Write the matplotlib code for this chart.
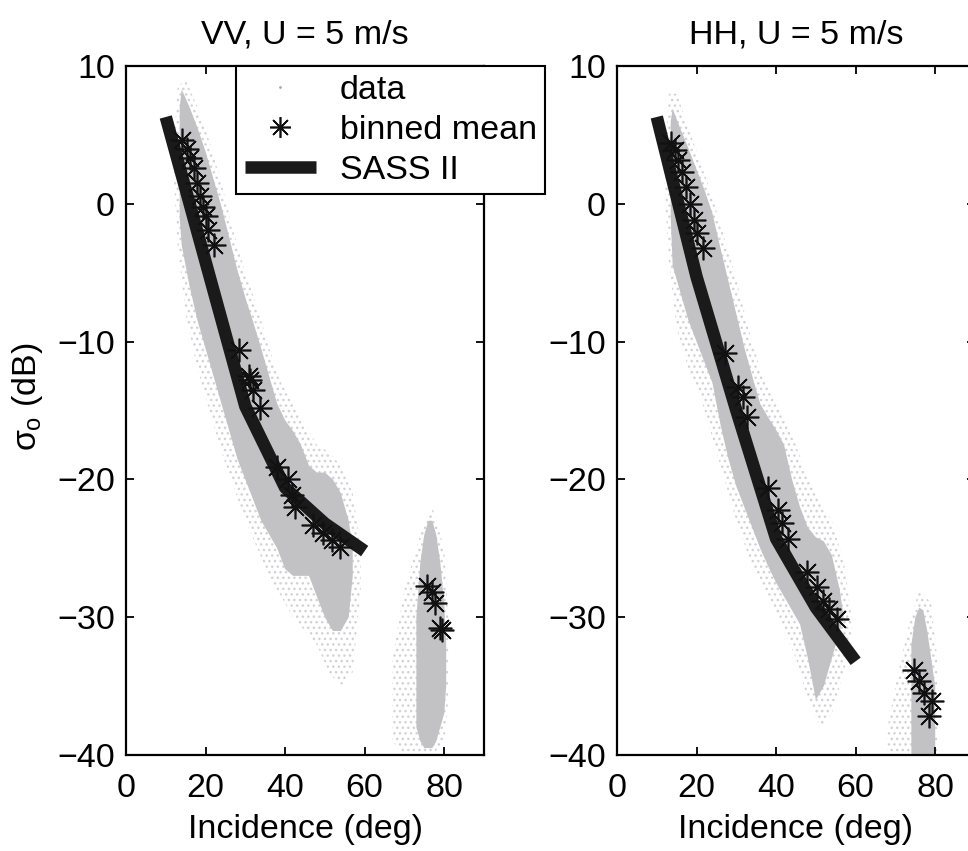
import matplotlib
matplotlib.use("Agg")
import matplotlib.pyplot as plt
from matplotlib.lines import Line2D

plt.rcParams['font.family'] = ['Liberation Sans', 'DejaVu Sans']
plt.rcParams['mathtext.fontset'] = 'custom'
plt.rcParams['mathtext.rm'] = 'Liberation Sans'
plt.rcParams['mathtext.it'] = 'Liberation Sans'
plt.rcParams['mathtext.bf'] = 'Liberation Sans'
plt.rcParams['hatch.linewidth'] = 1.0

# ---------------- data ----------------
titles = ["VV, U = 5 m/s", "HH, U = 5 m/s"]
x_ticks = [0, 20, 40, 60, 80]
y_ticks = [-40, -30, -20, -10, 0, 10]

# SASS II model
sass_inc = [10, 20, 30, 40, 50, 60]
sass_vv = [6.3, -4.2, -14.7, -20.6, -23.2, -25.2]
sass_hh = [6.3, -5.3, -15.0, -24.3, -29.3, -33.2]

# binned means
bin_inc_vv = [14.0, 15.3, 16.1, 17.1, 17.9, 18.6, 19.4, 20.1, 20.7, 22.0, 28.3, 30.8, 31.2, 32.0,
              33.7, 37.9, 40.8, 41.7, 42.5, 47.1, 49.6, 51.7, 53.8, 75.6, 76.9, 77.7, 79.0, 79.4]
bin_sig_vv = [4.6, 4.0, 3.3, 2.6, 1.5, 0.6, -0.2, -0.9, -1.9, -3.0, -10.6, -12.5, -12.8, -13.5,
              -14.8, -19.1, -20.0, -21.1, -22.0, -23.3, -23.9, -24.4, -24.9, -27.7, -28.2, -29.0, -30.8, -30.9]
bin_inc_hh = [13.7, 14.6, 15.4, 16.3, 17.4, 18.4, 19.4, 20.2, 21.7, 27.2, 30.5, 31.6, 32.6, 38.0,
              40.5, 41.4, 43.1, 47.7, 50.3, 51.9, 53.2, 55.3, 74.6, 75.9, 77.1, 79.2, 78.4]
bin_sig_hh = [4.4, 3.9, 3.2, 2.3, 1.2, 0.0, -1.2, -2.1, -3.2, -10.8, -13.3, -14.0, -15.5, -20.6,
              -22.2, -23.2, -24.3, -26.7, -27.8, -28.8, -29.4, -30.1, -33.8, -34.6, -35.5, -36.1, -37.2]

# data cloud envelopes (dense core and sparse halo)
vv_core_x = [13.5, 14, 16, 18, 20, 22, 24, 26, 28, 30, 32, 34, 36, 38, 40, 42, 44, 46, 48, 50, 52, 54, 56, 57]
vv_core_hi = [7, 8.3, 7, 5.5, 3.8, 1.8, -0.2, -2.5, -4.8, -6.8, -8.6, -10.5, -12.5, -14.5, -15.7,
              -16.5, -17.5, -19, -19.5, -19.5, -20, -21, -23, -25]
vv_core_lo = [-1, -3, -6, -8.5, -10.5, -12.5, -14.5, -16.5, -18.5, -20, -21.5, -23, -24, -25, -26.5,
              -27, -27, -27, -28.5, -30, -31, -31, -30, -27]
vv_halo_x = [12, 13, 15, 18, 21, 24, 27, 30, 33, 36, 39, 42, 45, 48, 51, 54, 57, 59]
vv_halo_hi = [4, 8.5, 9, 7, 4.5, 1.5, -2, -5, -7.5, -10.5, -13, -14.5, -16, -17.5, -18, -19, -21, -25]
vv_halo_lo = [2, -3, -8, -12, -15, -18, -20.5, -23, -25, -27, -28.5, -30, -31, -32, -34, -35, -34, -28]
vv_far_x = [73, 74, 75, 76, 77, 78, 79, 80, 80.5]
vv_far_hi = [-30, -26, -24, -23, -23, -24, -26, -29, -32]
vv_far_lo = [-38, -39, -39.5, -39.5, -39.5, -39, -38, -37, -35]
vv_farh_x = [67, 70, 74, 77, 80, 81]
vv_farh_hi = [-33, -28, -24, -22, -25, -30]
vv_farh_lo = [-39, -40, -40, -40, -39, -36]

hh_core_x = [13.5, 14, 16, 18, 20, 22, 24, 26, 28, 30, 32, 34, 36, 38, 40, 42, 44, 46, 48, 50, 52, 54, 56, 57]
hh_core_hi = [6, 6.9, 5.4, 4, 2.5, 1, -0.7, -3.2, -5.6, -8, -10.4, -12.5, -14.5, -15.5, -16.4,
              -17.5, -20, -22, -23.5, -24.2, -24.5, -25.5, -28, -30]
hh_core_lo = [-1, -4.5, -6.5, -8.5, -10, -11.5, -13, -16, -18.5, -20.5, -22, -23.5, -25, -26.3,
              -27.5, -28.5, -29.5, -30.5, -33, -36, -35, -33, -31, -30]
hh_halo_x = [12, 13, 15, 18, 21, 24, 27, 30, 33, 36, 39, 42, 45, 48, 51, 54, 57, 59]
hh_halo_hi = [3, 8, 8, 5.5, 3, 0.5, -2.5, -5.5, -9, -12, -14, -15.5, -17.5, -20, -21.5, -23, -26, -30]
hh_halo_lo = [1, -4, -9, -12, -14, -17, -20, -23, -25.5, -27.5, -29, -31, -33, -36, -38, -37, -34, -31]
hh_far_x = [74, 75, 76, 77, 78, 79, 80]
hh_far_hi = [-32, -30, -29.3, -29.5, -31, -33, -35]
hh_far_lo = [-40, -40, -40, -40, -40, -40, -40]
hh_farh_x = [68, 70, 73, 76, 79, 80.5]
hh_farh_hi = [-38, -35, -31, -28, -29, -33]
hh_farh_lo = [-40, -40, -40, -40, -40, -40]

panels = [
    dict(sass=sass_vv, bx=bin_inc_vv, by=bin_sig_vv,
         clouds=[(vv_core_x, vv_core_hi, vv_core_lo), (vv_far_x, vv_far_hi, vv_far_lo)],
         halos=[(vv_halo_x, vv_halo_hi, vv_halo_lo), (vv_farh_x, vv_farh_hi, vv_farh_lo)]),
    dict(sass=sass_hh, bx=bin_inc_hh, by=bin_sig_hh,
         clouds=[(hh_core_x, hh_core_hi, hh_core_lo), (hh_far_x, hh_far_hi, hh_far_lo)],
         halos=[(hh_halo_x, hh_halo_hi, hh_halo_lo), (hh_farh_x, hh_farh_hi, hh_farh_lo)]),
]

# ---------------- figure ----------------
W, H = 968, 851
fig = plt.figure(figsize=(W / 100, H / 100), dpi=100)
gray = '#c2c2c4'
halo_gray = '#d2d2d4'
fs = 24.5
star = (8, 2, 0)
line_col = '#1a1a1a'

lefts = [126, 617]
for i, p in enumerate(panels):
    ax = fig.add_axes([lefts[i] / W, (H - 755) / H, 358 / W, 689 / H])
    for (cx, hi, lo) in p['halos']:
        ax.fill_between(cx, lo, hi, facecolor='none', edgecolor=halo_gray, hatch='...',
                        linewidth=0, zorder=1)
    for (cx, hi, lo) in p['clouds']:
        ax.fill_between(cx, lo, hi, facecolor=gray, edgecolor='none', linewidth=0, zorder=1.5)
    ax.plot(sass_inc, p['sass'], color=line_col, lw=9, solid_capstyle='butt', zorder=3)
    ax.plot(p['bx'], p['by'], linestyle='none', marker=star, markersize=17, mec='#111111',
            mew=1.2, zorder=4)
    ax.set_xlim(0, 90)
    ax.set_ylim(-40, 10)
    ax.set_xticks(x_ticks)
    ax.set_yticks(y_ticks)
    ax.tick_params(direction='in', length=5.5, width=1.3, top=True, right=True,
                   labelsize=fs)
    ax.tick_params(axis='x', pad=13)
    ax.tick_params(axis='y', pad=8)
    for s in ax.spines.values():
        s.set_linewidth(1.6)
    ax.set_title(titles[i], fontsize=fs, pad=16)
    ax.set_xlabel('Incidence (deg)', fontsize=fs, labelpad=7)
    if i == 0:
        ax.set_ylabel(r'$\sigma_o$ (dB)', fontsize=fs)
        ax.yaxis.set_label_coords(-0.225, 0.52)
        handles = [
            Line2D([], [], linestyle='none', marker='.', markersize=2, color='#aaaaaa'),
            Line2D([], [], linestyle='none', marker=star, markersize=15, mec='#111111', mew=1.2),
            Line2D([], [], color=line_col, lw=9, solid_capstyle='butt'),
        ]
        leg = ax.legend(handles, ['data', 'binned mean', 'SASS II'], loc='upper left',
                        bbox_to_anchor=((236 - 126) / 358, 1.0), fontsize=fs,
                        frameon=True, fancybox=False, framealpha=1, edgecolor='black',
                        borderpad=0.25, labelspacing=0.27, handlelength=2.1,
                        handletextpad=0.7, borderaxespad=0)
        leg.get_frame().set_linewidth(1.5)
        leg.set_zorder(10)

fig.savefig('out.png', dpi=100)
